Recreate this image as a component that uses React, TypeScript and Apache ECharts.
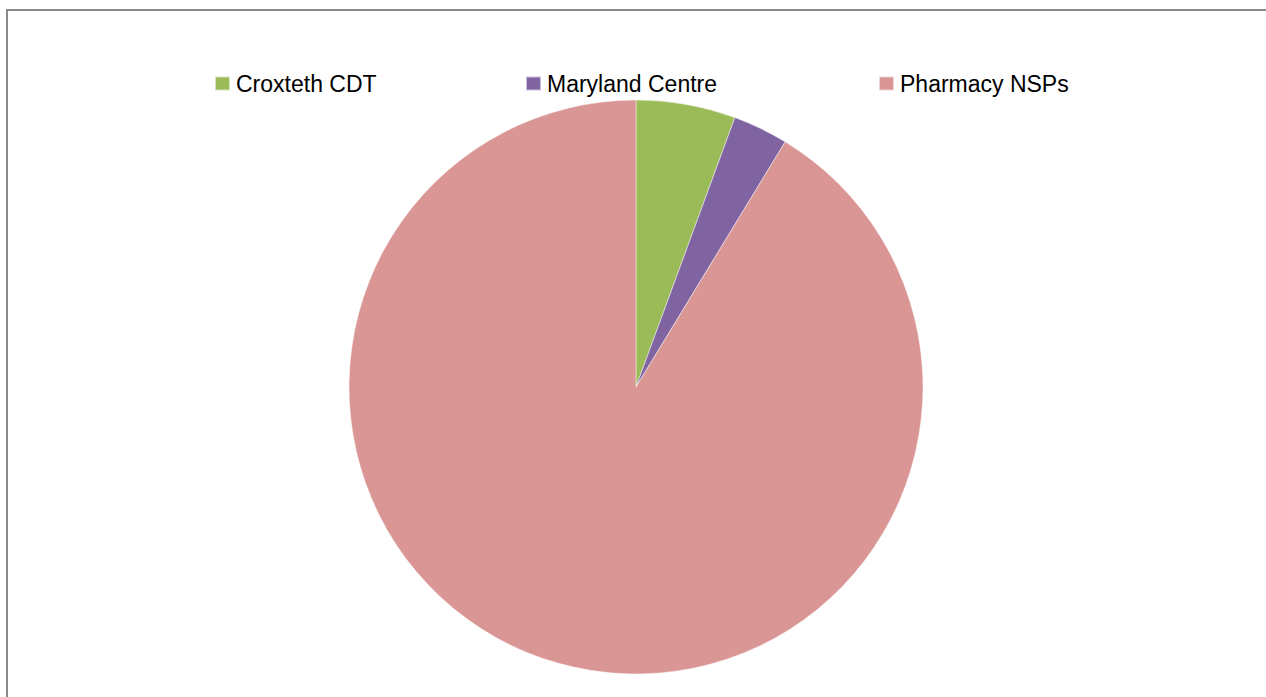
import React, { useEffect, useRef } from "react";
import * as echarts from "echarts";

const categories = ["Croxteth CDT", "Maryland Centre", "Pharmacy NSPs"];
const values = [5.6, 3.1, 91.3];
const colors = ["#9BBB59", "#8064A2", "#D99694"];
const legendLefts = [214, 525, 878];

export default function App() {
  const ref = useRef<HTMLDivElement>(null);
  useEffect(() => {
    if (!ref.current) return;
    const chart = echarts.init(ref.current, null, { renderer: "svg" });
    chart.setOption({
      animation: false,
      color: colors,
      legend: categories.map((c, i) => ({
        data: [c],
        left: legendLefts[i],
        top: 72,
        padding: 0,
        icon: "rect",
        itemWidth: 15,
        itemHeight: 14,
        itemGap: 0,
        selectedMode: false,
        textStyle: {
          fontFamily: "Liberation Sans",
          fontSize: 23,
          color: "#000",
          padding: [0, 0, 0, 1],
        },
      })),
      graphic: [
        {
          type: "rect",
          shape: { x: 7, y: 10, width: 1320, height: 760 },
          style: { fill: "none", stroke: "#8c8c8c", lineWidth: 2 },
          silent: true,
          z: 10,
        },
      ],
      series: [
        {
          type: "pie",
          center: [636, 387],
          radius: 287,
          startAngle: 90,
          clockwise: true,
          label: { show: false },
          labelLine: { show: false },
          silent: true,
          itemStyle: { borderColor: "rgba(255,255,255,0.6)", borderWidth: 0.75 },
          data: categories.map((c, i) => ({ name: c, value: values[i] })),
        },
      ],
    });
    return () => chart.dispose();
  }, []);
  return (
    <div
      ref={ref}
      style={{ position: "absolute", left: 0, top: 0, width: 1266, height: 697, background: "#fff" }}
    />
  );
}
